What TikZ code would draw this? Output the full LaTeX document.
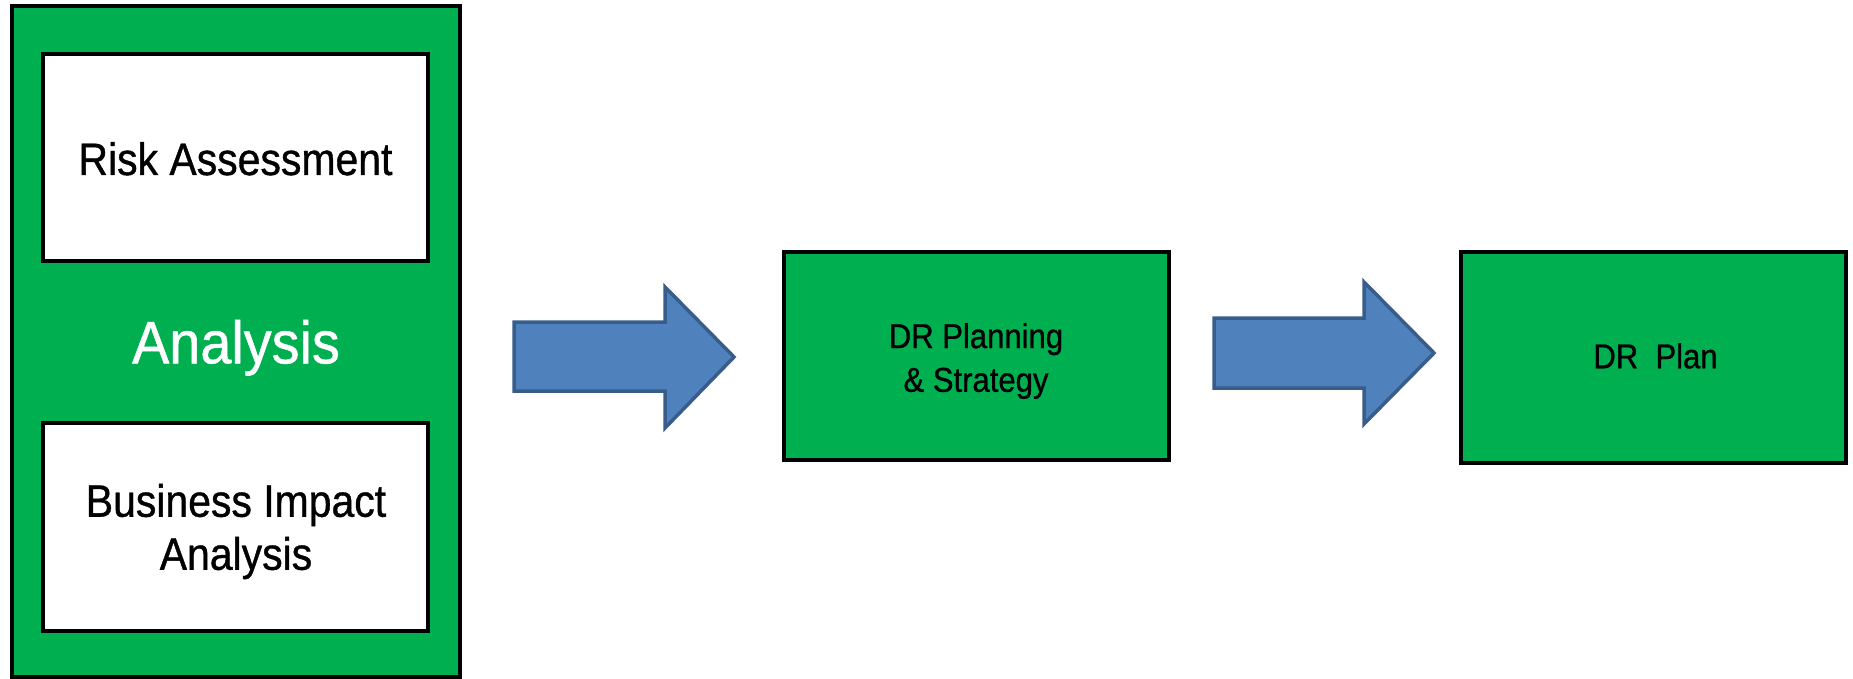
\documentclass[tikz,border=0pt]{standalone}
\usepackage{fontspec}
\setmainfont{Liberation Sans}[FakeStretch=0.9, FakeBold=0.8]
\newfontfamily\bigfont{Liberation Sans}[FakeStretch=0.93, FakeBold=0.8]
\definecolor{boxgreen}{HTML}{00B050}
\definecolor{arrowblue}{HTML}{4F81BD}
\definecolor{arrowedge}{HTML}{385D8A}
\tikzset{
  greenbox/.style={draw=black, line width=4.5pt, fill=boxgreen, rectangle, inner sep=0pt},
  whitebox/.style={draw=black, line width=4.5pt, fill=white, rectangle, inner sep=0pt},
  boxtext/.style={inner sep=0pt, align=center, font=\fontsize{45.5}{53}\selectfont},
  drtext/.style={inner sep=0pt, align=center, font=\fontsize{34.5}{43.7}\selectfont},
  blockarrow/.style={draw=arrowedge, line width=3.5pt, fill=arrowblue, line join=miter}
}
\begin{document}
\begin{tikzpicture}[x=1pt,y=-1pt]
\useasboundingbox (0,0) rectangle (1853,679);
\node[greenbox, minimum width=448pt, minimum height=671pt] (outer) at (236,341.5) {};
\node[whitebox, minimum width=385pt, minimum height=207pt] (risk) at (235.5,157.5) {};
\node[whitebox, minimum width=385pt, minimum height=208pt] (bia) at (235.5,527) {};
\node[boxtext, anchor=base] (risktext) at (235.5,175) {Risk Assessment};
\node[boxtext] (biatext) at (236,531.5) {Business Impact\\Analysis};
\node[text=white, inner sep=0pt, font=\bigfont\fontsize{60}{70}\selectfont, anchor=base] (analysis) at (236,363.3) {Analysis};
\node[greenbox, minimum width=385pt, minimum height=208pt] (drp) at (976.5,356) {};
\node[drtext] (drptext) at (976,361) {DR Planning\\\& Strategy};
\node[greenbox, minimum width=385pt, minimum height=211pt] (plan) at (1653.5,357.5) {};
\node[drtext, anchor=base] (plantext) at (1655.5,368.3) {DR\ \ Plan};
\draw[blockarrow] (514,322) -- (665,322) -- (665,287) -- (734,357) -- (665,428) -- (665,391) -- (514,391) -- cycle;
\draw[blockarrow] (1214,318) -- (1364,318) -- (1364,282) -- (1434,353) -- (1364,424) -- (1364,388) -- (1214,388) -- cycle;
\end{tikzpicture}
\end{document}
